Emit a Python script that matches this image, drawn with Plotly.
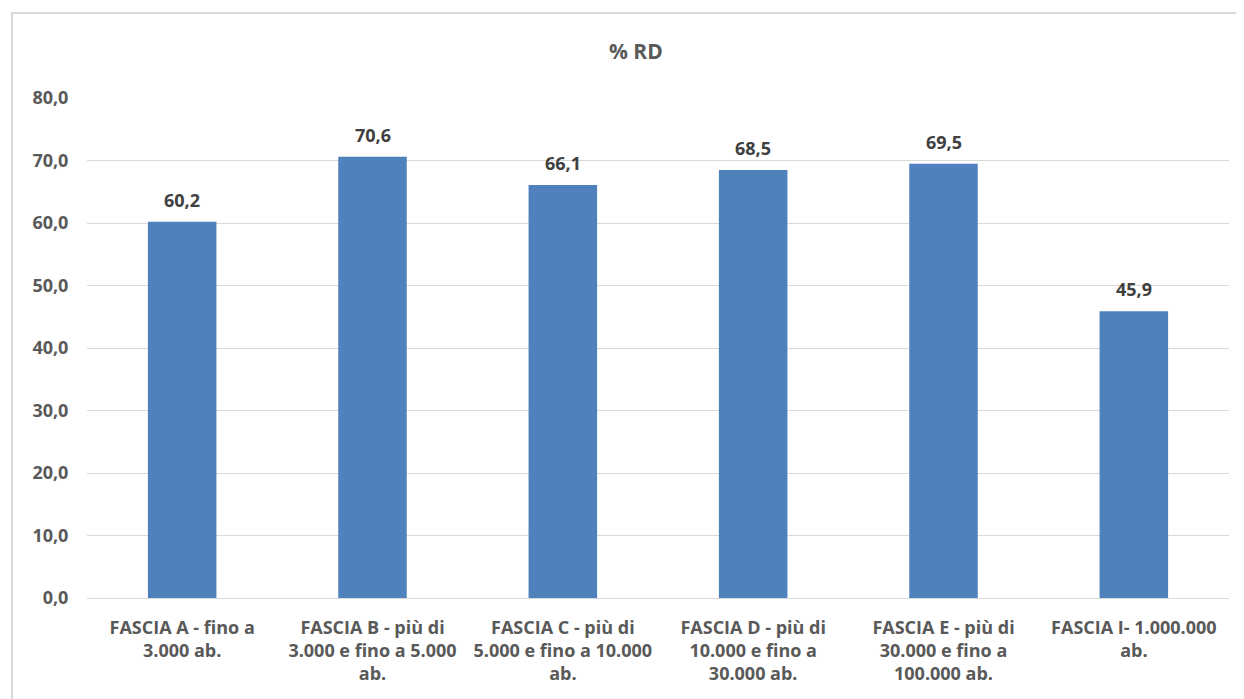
import plotly.graph_objects as go

categories = [
    "FASCIA A - fino a<br>3.000 ab.",
    "FASCIA B - più di<br>3.000 e fino a 5.000<br>ab.",
    "FASCIA C - più di<br>5.000 e fino a 10.000<br>ab.",
    "FASCIA D - più di<br>10.000 e fino a<br>30.000 ab.",
    "FASCIA E - più di<br>30.000 e fino a<br>100.000 ab.",
    "FASCIA I- 1.000.000<br>ab.",
]
values = [60.2, 70.6, 66.1, 68.5, 69.5, 45.9]
y_ticks = [0, 10, 20, 30, 40, 50, 60, 70, 80]

# page has an 8px body margin; compensate
OFF = 8
W, H = 1244 - OFF, 699 - OFF
L, R, T, B = 87 - OFF, 15, 98 - OFF, 101
pw = W - L - R
ph = H - T - B

FONT = "Open Sans"
GRAY = "#595959"

xs = list(range(len(categories)))

fig = go.Figure(go.Bar(
    x=xs,
    y=values,
    marker=dict(color="#4F81BD", line=dict(width=0)),
    width=0.36,
    hoverinfo="skip",
))

annotations = [dict(
    x=x, y=v, xref="x", yref="y",
    text=f"<b>{v:.1f}</b>".replace(".", ","),
    showarrow=False, yanchor="middle", xanchor="center", yshift=22,
    font=dict(family=FONT, size=18, color="#404040"),
) for x, v in zip(xs, values)]

annotations.append(dict(
    text="<b>% RD</b>",
    x=(636 - 87) / pw, y=1 + (98 - 50.5) / ph,
    xref="paper", yref="paper",
    showarrow=False,
    font=dict(family=FONT, size=21, color=GRAY),
    xanchor="center", yanchor="middle",
))

fig.update_layout(
    width=W, height=H,
    margin=dict(l=L, r=R, t=T, b=B),
    paper_bgcolor="white", plot_bgcolor="white",
    separators=",.",
    showlegend=False,
    font=dict(family=FONT, color=GRAY),
    xaxis=dict(
        tickmode="array",
        tickvals=xs,
        ticktext=[f"<b>{c}</b>" for c in categories],
        tickfont=dict(family=FONT, size=18, color=GRAY),
        range=[-0.5, len(categories) - 0.5],
        showgrid=False, zeroline=False,
        showline=False, ticks="outside", ticklen=13, tickcolor="rgba(0,0,0,0)",
    ),
    yaxis=dict(
        range=[0, 80],
        tickvals=y_ticks,
        tickformat=".1f",
        tickfont=dict(family=FONT, size=18, color=GRAY, weight="bold"),
        showgrid=True, gridcolor="#D9D9D9", gridwidth=1,
        zeroline=True, zerolinecolor="#D9D9D9", zerolinewidth=1,
        showline=False, ticks="outside", ticklen=14, tickcolor="rgba(0,0,0,0)",
    ),
    annotations=annotations,
    shapes=[dict(
        type="rect", xref="paper", yref="paper",
        x0=(12 - 87) / pw, x1=(1300 - 87) / pw,
        y0=-(B + 50) / ph, y1=1 + (98 - 13) / ph,
        line=dict(color="#D9D9D9", width=2),
        fillcolor="rgba(0,0,0,0)", layer="below",
    )],
)

fig.write_html("out.html")
